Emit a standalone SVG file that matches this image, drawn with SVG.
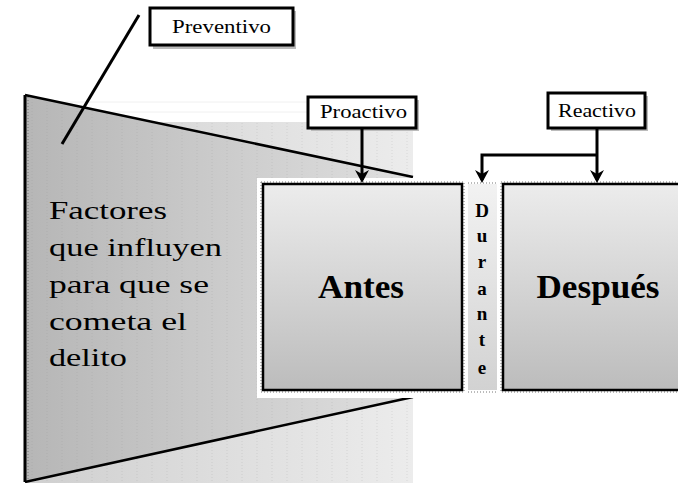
<svg xmlns="http://www.w3.org/2000/svg" width="678" height="483" viewBox="0 0 678 483">
<style>
.lbl{fill:#fff;stroke:#000;stroke-width:3}
.shadow{fill:#bbb}
.ltxt{font-family:"Liberation Serif","Times New Roman",serif;font-size:19px;fill:#000}
.big{font-family:"Liberation Serif","Times New Roman",serif;font-size:33px;font-weight:bold;fill:#000}
.side{font-family:"Liberation Serif","Times New Roman",serif;font-size:26px;fill:#000}
.dur{font-family:"Liberation Serif","Times New Roman",serif;font-size:19px;font-weight:bold;fill:#000;text-anchor:middle}
.box{fill:url(#boxg);stroke:#000;stroke-width:2.5}
.dots{fill:none;stroke:#777;stroke-width:1;stroke-dasharray:1 2}
.conn{fill:none;stroke:#000;stroke-width:3}
</style>
<defs>
<linearGradient id="bg" x1="0" y1="0" x2="1" y2="0">
<stop offset="0" stop-color="#cfcfcf"/><stop offset="1" stop-color="#ececec"/>
</linearGradient>
<linearGradient id="trap" x1="0" y1="0" x2="1" y2="0">
<stop offset="0" stop-color="#b6b6b6"/><stop offset="1" stop-color="#e0e0e0"/>
</linearGradient>
<linearGradient id="boxg" x1="0" y1="0" x2="0" y2="1">
<stop offset="0" stop-color="#ececec"/><stop offset="1" stop-color="#bcbcbc"/>
</linearGradient>
<linearGradient id="durg" x1="0" y1="0" x2="0" y2="1">
<stop offset="0" stop-color="#f2f2f2"/><stop offset="1" stop-color="#d2d2d2"/>
</linearGradient>
<pattern id="vl" x="25" y="0" width="15" height="483" patternUnits="userSpaceOnUse">
<line x1="7" y1="0" x2="7" y2="483" stroke="#8a8a8a" stroke-opacity="0.2" stroke-width="1" stroke-dasharray="1 2"/>
</pattern>
<marker id="ah" viewBox="0 0 14 16" refX="11" refY="8" markerWidth="14" markerHeight="16" markerUnits="userSpaceOnUse" orient="auto">
<path d="M1,1 L14,8 L1,15 L5,8 Z" fill="#000"/>
</marker>
</defs>
<rect width="678" height="483" fill="#fff"/>

<g id="background">
<line x1="25" y1="102" x2="320" y2="102" stroke="#f0f0f0" stroke-width="1"/>
<line x1="25" y1="112" x2="320" y2="112" stroke="#f0f0f0" stroke-width="1"/>
<rect x="25" y="122" width="388" height="361" fill="url(#bg)"/>
<rect x="25" y="122" width="388" height="361" fill="url(#vl)"/>
</g>

<g id="factores">
<polygon points="25,95 413,177 413,397 25,482" fill="url(#trap)"/>
<polygon points="25,95 413,177 413,397 25,482" fill="url(#vl)"/>
<line x1="25" y1="95" x2="413" y2="177" stroke="#000" stroke-width="2.5"/>
<line x1="25" y1="482" x2="413" y2="397" stroke="#000" stroke-width="2.5"/>
<line x1="25" y1="95" x2="25" y2="482" stroke="#000" stroke-width="3"/>
<line x1="28" y1="97" x2="28" y2="480" stroke="#777" stroke-width="1" stroke-dasharray="1 2"/>
<text class="side" x="49" y="219" textLength="118" lengthAdjust="spacingAndGlyphs">Factores</text>
<text class="side" x="49" y="256" textLength="173" lengthAdjust="spacingAndGlyphs">que influyen</text>
<text class="side" x="49" y="293" textLength="160" lengthAdjust="spacingAndGlyphs">para que se</text>
<text class="side" x="49" y="330" textLength="138" lengthAdjust="spacingAndGlyphs">cometa el</text>
<text class="side" x="49" y="366" textLength="78" lengthAdjust="spacingAndGlyphs">delito</text>
</g>

<rect x="257" y="178" width="160" height="220" fill="#fff"/>

<g id="preventivo">
<rect x="153" y="11" width="143" height="38" class="shadow"/>
<rect x="150" y="8" width="143" height="37" class="lbl"/>
<text class="ltxt" x="172" y="33" textLength="99" lengthAdjust="spacingAndGlyphs">Preventivo</text>
</g>

<g id="proactivo">
<rect x="311" y="100" width="108" height="31" class="shadow"/>
<rect x="308" y="97" width="108" height="31" class="lbl"/>
<text class="ltxt" x="320" y="118" textLength="87" lengthAdjust="spacingAndGlyphs">Proactivo</text>
</g>

<g id="reactivo">
<rect x="551" y="96" width="97" height="35" class="shadow"/>
<rect x="548" y="93" width="97" height="35" class="lbl"/>
<text class="ltxt" x="558" y="117" textLength="78" lengthAdjust="spacingAndGlyphs">Reactivo</text>
</g>

<g id="antes">
<rect x="261" y="182" width="203" height="210" class="dots"/>
<rect x="263" y="184" width="199" height="206" class="box"/>
<text class="big" x="361" y="298" text-anchor="middle" textLength="86" lengthAdjust="spacingAndGlyphs">Antes</text>
</g>

<g id="durante">
<rect x="468" y="184" width="29" height="206" fill="url(#durg)"/>
<line x1="468" y1="183" x2="497" y2="183" class="dots"/>
<line x1="468" y1="392" x2="497" y2="392" class="dots"/>
<text class="dur" x="482" y="217">D</text>
<text class="dur" x="482" y="242">u</text>
<text class="dur" x="482" y="268">r</text>
<text class="dur" x="482" y="295">a</text>
<text class="dur" x="482" y="320">n</text>
<text class="dur" x="482" y="346">t</text>
<text class="dur" x="482" y="374">e</text>
</g>

<g id="despues">
<rect x="501" y="182" width="190" height="210" class="dots"/>
<rect x="503" y="184" width="186" height="206" class="box"/>
<text class="big" x="598" y="298" text-anchor="middle" textLength="123" lengthAdjust="spacingAndGlyphs">Después</text>
</g>

<g id="connectors">
<line x1="139" y1="15" x2="62" y2="144" class="conn"/>
<path d="M362,128 V180" class="conn" marker-end="url(#ah)"/>
<path d="M597,128 V180" class="conn" marker-end="url(#ah)"/>
<path d="M597,155 H482 V180" class="conn" marker-end="url(#ah)"/>
</g>
</svg>
